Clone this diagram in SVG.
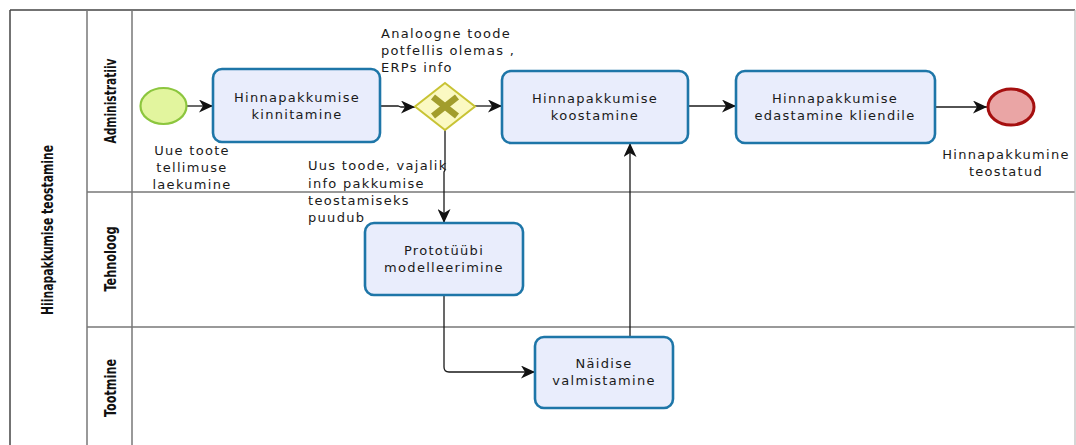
<svg xmlns="http://www.w3.org/2000/svg" width="1076" height="445" viewBox="0 0 1076 445">
  <style>
    .lane-line { stroke: #777777; stroke-width: 1.5; fill: none; }
    .pool-line { stroke: #444444; stroke-width: 1.5; fill: none; }
    .lane-label { font-family: "DejaVu Sans Condensed", "DejaVu Sans", sans-serif; font-weight: bold; font-size: 16px; fill: #111111; }
    .task rect { fill: #e9edfc; stroke: #1e76a8; stroke-width: 2.6; }
    .txt { font-family: "DejaVu Sans", "Verdana", sans-serif; font-size: 13px; letter-spacing: 1.3px; fill: #1a1a1a; }
    .mid { text-anchor: middle; }
    .flow { stroke: #1a1a1a; stroke-width: 1.3; fill: none; marker-end: url(#arrow); }
  </style>
  <defs>
    <marker id="arrow" markerWidth="15" markerHeight="13" refX="14" refY="6.5" orient="auto" markerUnits="userSpaceOnUse">
      <path d="M0,0 L14,6.5 L0,13 L4,6.5 Z" fill="#111111"/>
    </marker>
  </defs>

  <rect width="1076" height="445" fill="#ffffff"/>

  <!-- pool and lanes -->
  <g id="pool">
    <line class="pool-line" x1="10" y1="10" x2="1075" y2="10"/>
    <line class="pool-line" x1="10" y1="10" x2="10" y2="445"/>
    <line class="lane-line" x1="87" y1="10" x2="87" y2="445"/>
    <line class="lane-line" x1="132" y1="10" x2="132" y2="445"/>
    <line class="lane-line" x1="87" y1="192" x2="1075" y2="192"/>
    <line class="lane-line" x1="87" y1="327" x2="1075" y2="327"/>
    <line stroke="#bbbbbb" stroke-width="1.2" x1="1075" y1="10" x2="1075" y2="445"/>
    <text class="lane-label" text-anchor="middle" transform="translate(53,230) rotate(-90)" textLength="170" lengthAdjust="spacingAndGlyphs">Hiinapakkumise teostamine</text>
  </g>
  <g id="lane-administratiiv">
    <text class="lane-label" text-anchor="middle" transform="translate(116,101) rotate(-90)" textLength="85" lengthAdjust="spacingAndGlyphs">Administratiiv</text>
  </g>
  <g id="lane-tehnoloog">
    <text class="lane-label" text-anchor="middle" transform="translate(116,259) rotate(-90)" textLength="65" lengthAdjust="spacingAndGlyphs">Tehnoloog</text>
  </g>
  <g id="lane-tootmine">
    <text class="lane-label" text-anchor="middle" transform="translate(116,388) rotate(-90)" textLength="58" lengthAdjust="spacingAndGlyphs">Tootmine</text>
  </g>

  <!-- sequence flows -->
  <g id="connectors">
    <line class="flow" x1="187" y1="106" x2="213" y2="106"/>
    <polyline class="flow" points="380,106 398,106 401,107 415,107"/>
    <line class="flow" x1="475" y1="106" x2="502" y2="106"/>
    <line class="flow" x1="688" y1="106" x2="736" y2="106"/>
    <line class="flow" x1="935" y1="107" x2="987" y2="107"/>
    <polyline class="flow" points="445,130 445,170 444,172 444,223"/>
    <path class="flow" d="M444,295 V367 Q444,372 449,372 H535"/>
    <line class="flow" x1="630" y1="337" x2="630" y2="143"/>
  </g>

  <!-- start event -->
  <g id="start">
    <ellipse cx="163.5" cy="106" rx="23" ry="18" fill="#e2f59e" stroke="#8cc63e" stroke-width="2.2"/>
    <text class="txt mid" x="192" y="155">Uue toote</text>
    <text class="txt mid" x="192" y="172">tellimuse</text>
    <text class="txt mid" x="192" y="189">laekumine</text>
  </g>

  <g id="task-kinnitamine" class="task">
    <rect x="213" y="69" width="167" height="73" rx="9"/>
    <text class="txt mid" x="297" y="102">Hinnapakkumise</text>
    <text class="txt mid" x="297" y="119">kinnitamine</text>
  </g>

  <!-- exclusive gateway -->
  <g id="gateway">
    <polygon points="445,83 475,106.5 445,130 415,106.5" fill="#fbf9c2" stroke="#c8c334" stroke-width="2"/>
    <path d="M433,97 L457,116 M457,97 L433,116" stroke="#a29d2c" stroke-width="6.5" stroke-linecap="butt"/>
    <text class="txt" x="381" y="38">Analoogne toode</text>
    <text class="txt" x="381" y="55">potfellis olemas ,</text>
    <text class="txt" x="381" y="72">ERPs info</text>
    <text class="txt" x="308" y="170">Uus toode, vajalik</text>
    <text class="txt" x="308" y="188">info pakkumise</text>
    <text class="txt" x="308" y="205">teostamiseks</text>
    <text class="txt" x="308" y="222">puudub</text>
  </g>

  <g id="task-koostamine" class="task">
    <rect x="502" y="71" width="186" height="72" rx="9"/>
    <text class="txt mid" x="595" y="103">Hinnapakkumise</text>
    <text class="txt mid" x="595" y="120">koostamine</text>
  </g>

  <g id="task-edastamine" class="task">
    <rect x="736" y="71" width="199" height="72" rx="9"/>
    <text class="txt mid" x="835" y="103">Hinnapakkumise</text>
    <text class="txt mid" x="835" y="120">edastamine kliendile</text>
  </g>

  <!-- end event -->
  <g id="end">
    <ellipse cx="1011" cy="107" rx="23" ry="18" fill="#eaa5a5" stroke="#a50f0f" stroke-width="3"/>
    <text class="txt mid" x="1006" y="159">Hinnapakkumine</text>
    <text class="txt mid" x="1006" y="176">teostatud</text>
  </g>

  <g id="task-prototuubi" class="task">
    <rect x="365" y="223" width="158" height="72" rx="9"/>
    <text class="txt mid" x="444" y="255">Prototüübi</text>
    <text class="txt mid" x="444" y="272">modelleerimine</text>
  </g>

  <g id="task-naidise" class="task">
    <rect x="535" y="337" width="138" height="71" rx="9"/>
    <text class="txt mid" x="604" y="368">Näidise</text>
    <text class="txt mid" x="604" y="385">valmistamine</text>
  </g>
</svg>
